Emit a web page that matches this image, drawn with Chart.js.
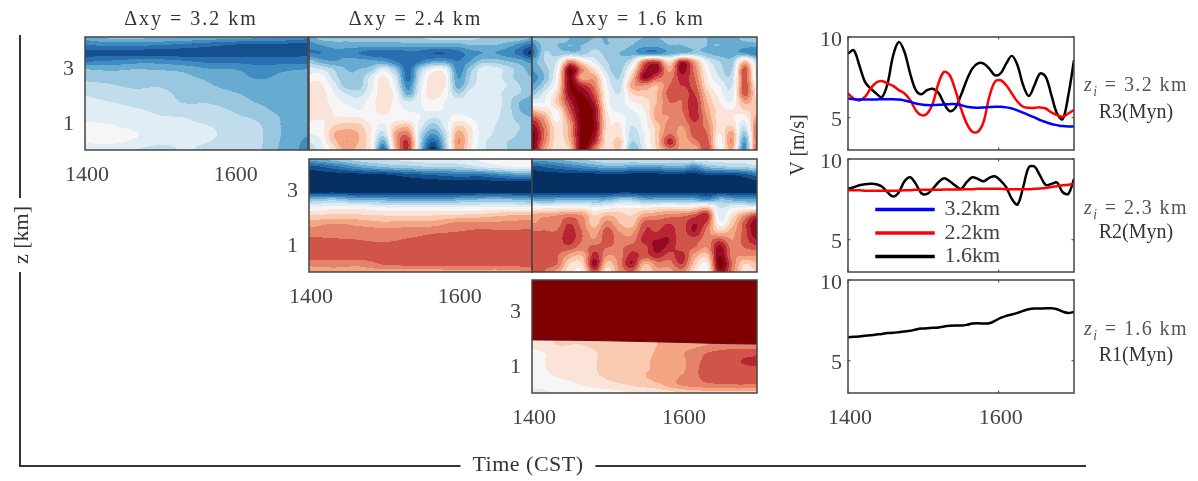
<!DOCTYPE html>
<html><head><meta charset="utf-8">
<script src="https://cdn.jsdelivr.net/npm/chart.js@4"></script>
<style>
html,body{margin:0;padding:0;background:#fff;width:1198px;height:481px;overflow:hidden}
#stage{position:absolute;left:0;top:0;width:1198px;height:481px;filter:blur(0.55px)}
canvas{position:absolute}
.t{position:absolute;font-family:"Liberation Serif",serif;color:#333;white-space:nowrap;line-height:1;transform:translate(-50%,-50%)}
.r{transform:translate(-50%,-50%) rotate(-90deg);background:#fff;padding:0 8px}
.a{color:#555;letter-spacing:1.4px}
.b{background:#fff;padding:0 12px;letter-spacing:.5px}
sub{font-size:68%;line-height:0}
.l{position:absolute;background:#333}
</style></head><body><div id="stage"></div>
<script>
// ---- axis ticks and labels ----
const timeTicks=[1400,1600];
const heightTicks=[1,3];
const speedTicks=[5,10];
const columnTitles=["Δxy = 3.2 km","Δxy = 2.4 km","Δxy = 1.6 km"];
const seriesNames=["3.2km","2.2km","1.6km"];
const seriesColors=["#0000ff","#ff0000","#000000"];
const rowNotes=[["3.2 km","R3(Myn)"],["2.3 km","R2(Myn)"],["1.6 km","R1(Myn)"]];
// ---- filled-contour colour levels, -8 .. +8 ----
const levelColors=["#053061","#14508e","#2a6eb0","#3f8cc0","#68abd0","#98c7df","#c1dcea","#e1edf4","#f6f6f6","#fbe3d7","#f9c9b0","#f4a582","#e4826a","#d05548","#b82433","#940a20","#7f0000"];
// ---- heat maps: rows run from the top of the panel down to z = 0 ----
const gridR3_32=[
[-4,-3.2,-3.2,-3.3,-3.5,-3.8,-4,-4.2,-4.5,-5],
[-5.5,-5.3,-5.3,-5.5,-5.8,-6.2,-6.6,-6.8,-6.8,-7],
[-6.8,-6.8,-6.9,-7,-7,-7,-7,-6.8,-6.8,-6.7],
[-5.6,-5.4,-5,-5,-5.4,-5.8,-5.8,-6,-6,-6],
[-3.5,-3.7,-3.5,-3.6,-3.8,-4.4,-4.5,-5,-4.7,-4.5],
[-2.8,-3,-3.1,-3,-3.3,-3.7,-4.1,-4.6,-4.3,-4.1],
[-2.2,-2.4,-2.7,-2.6,-3.1,-3.4,-3.9,-4.2,-4.1,-4],
[-1.6,-2,-2.2,-2.2,-2.8,-3,-3.4,-3.9,-4,-4],
[-1.3,-1.5,-1.8,-1.9,-2.6,-2.6,-3,-3.6,-3.8,-3.9],
[-1.1,-1.2,-1.4,-1.7,-2,-2.2,-2.6,-3.2,-3.8,-3.9],
[-0.7,-0.9,-1.1,-1.4,-1.5,-1.9,-2.3,-2.7,-3.6,-3.9],
[-0.3,-0.4,-0.8,-1.1,-1.3,-1.5,-2,-2.4,-3.6,-4],
[-0.1,-0.1,-0.4,-1,-1.2,-1.3,-2,-2.3,-3.6,-4.4],
[-0.4,-0.3,-0.7,-1.2,-1.3,-1.5,-2,-2.3,-3.7,-4.7],
[-1.2,-1.1,-1.5,-2,-1.4,-1.8,-2,-2.4,-3.8,-4.8]];
const gridR3_24=[
[-4,-3,-3,-3,-3,-3,-3,-3,-2.5,-2.5,-2,-2,-2,-2,-2.5,-2.5,-2.5,-2.5,-3.5],
[-5,-4.5,-4,-4,-4,-4,-4,-4,-4,-4,-4,-4,-4,-3.5,-3.5,-3.5,-4,-5,-6],
[-5.5,-5.5,-5,-5,-5.5,-6,-6,-6.2,-6,-6,-6.5,-6.5,-6,-5,-4.5,-4.5,-5,-6,-8],
[-3,-4,-4.5,-4,-4,-4.2,-4.5,-5.5,-6.5,-5.5,-4.5,-4.5,-5.5,-4.5,-3,-3,-3.5,-4,-5],
[-1,-1.5,-2.5,-3.5,-3.5,-3,-1,-3,-6,-2.5,-0.2,-0.5,-5,-3,-1,-1,-2,-3,-4],
[-0.2,0,-2,-3.2,-3.2,-1.2,0.7,-1.5,-6,-1.5,1.2,0.5,-4.5,-2.5,-1,-1,-2,-3,-3.5],
[1,0.6,-1,-3,-3,-1,1.2,-1,-5,-1,1.2,0.5,-4,-2,-1,-1,-1.5,-2.5,-3.5],
[1,1,-0.5,-1.5,-2,-0.5,1.2,0,-4,-0.6,1.2,0,-2.5,-1,-1,-1,-2,-2.5,-3.5],
[1,1,0,-0.8,-1,0,1.2,0,-1.5,-0.5,0.3,-0.5,-1,-1,-1,-1,-2,-3.5,-4],
[1,1,0.4,0,-0.5,0,1,0,-0.6,-0.6,-0.3,-0.6,-0.8,-1,-1,-1.2,-2,-3.5,-4],
[0.8,0.6,0.6,0.6,0.6,0,0.2,0,0,-0.5,-1.5,-1,0,-0.5,-1,-1.3,-2,-3,-3.5],
[0,0.2,1.5,2,1.8,0.5,-0.8,1.5,2,-1,-3,-1,1.5,0.5,-1,-1.5,-2,-2.5,-3],
[-0.5,0,2.5,3,2.5,0.6,-2,3,4,-2,-4.5,-2,3,1,-1,-1.6,-2.2,-2.6,-3],
[-1.5,-0.5,2,3.5,2.5,0.5,-4,3,5.5,-2.5,-6.5,-2.5,3.5,1,-1.2,-1.8,-2.5,-2.6,-3],
[-2,-1,1,3,2,0.4,-6,2.5,5.5,-3,-8,-3,3,0.7,-1.2,-2,-2.5,-2.6,-3]];
const gridR3_16=[
[-3,-2.5,-3,-3.5,-4,-3.5,-3.5,-3,-3.2,-3.5,-3.5,-3.2,-3,-2.5,-3.5,-4,-4,-3,-2.5],
[-5,-3,-3.5,-3.5,-3.5,-3,-3.5,-3,-3.5,-4,-4,-3.5,-3.5,-3,-3.5,-3.5,-4,-4,-4],
[-6,-2.5,-3,-3,-3,-2,-3,-3.5,-4,-5,-5,-4,-3.5,-3,-3.5,-4,-4,-4.5,-5.5],
[-4,-2.5,-1.5,3.5,1,-1,-2.5,-3.2,-1.5,4,5,1,6,3,-1,-2.5,-3,2,-2],
[-4.5,-3,-0.5,7.5,4,1,-2,-3,0.5,6,7,3,7,4,0,-2,-2.5,5,-1.5],
[-5,-3.5,0,7.5,3,3,-1,-2.5,2,7,5,4,6,4.5,0.5,-1.5,-2,5,-1],
[-4.5,-2.5,0.5,7.5,6,4,-0.5,-2,3,3.5,2.5,4.5,5.5,5,1,-0.5,-1.5,5,0.5],
[-3,-1,1.5,7,7.5,5,0,-1.5,1.5,2,2.5,5,5,5.5,2,0,-1,5,1],
[-1,-0.5,2,6,8,6,0,-1,0.5,1,2.5,4.5,4.5,6,2.5,0.5,-0.5,3,1.5],
[2,1,0.6,5,8,7,0.5,-0.8,-0.5,0.5,3,4,4.5,6,3,1,0.5,1.5,2],
[5,3,0,4,8,7,1,0,-0.8,0,3,3.5,4,6,3.5,0.8,0.6,0,3],
[7,4,1,3,8,7.5,1,0.7,-1.5,0,2,4,3.5,5,4,1,1.5,-1.5,4.5],
[8,4.5,1,3,8,7,1,1,-2,-0.5,2,4.5,3,5,4.5,0.5,3,-3,5],
[8,4,1,2.5,8,6,1,2,-2.5,-0.5,2,6,3,4,5,0,3.5,-4.5,5],
[8,3,1,1.5,8,4,0.8,1.5,-3.5,-1,1.5,4,3,2.5,5.5,0.2,2.5,-5,5.5]];
const gridR2_24=[
[-4,-3,-2,-1.5,-1.2,-1,-0.7,-0.3,0.5,0.5],
[-7,-6,-4.5,-3.5,-3,-2.5,-2.5,-1.5,-0.8,-0.5],
[-8,-8,-8,-7.8,-7,-6.5,-6,-6,-5,-4.5],
[-8,-8,-8,-8,-8,-8,-8,-8,-8,-8],
[-8,-8,-8,-8,-8,-8,-8,-8,-8,-8],
[-3.5,-3,-4,-4,-4.5,-4.5,-4,-3.5,-3.5,-4],
[-0.5,0,0,-0.5,-0.5,-0.5,-0.5,-0.5,-0.3,-0.5],
[1.5,1.8,1.7,1.5,1.5,1.5,1.7,2,2.5,2.6],
[3,3.5,3.2,2.8,3,3,3.8,3.8,3.8,4],
[4,4,4,4,4,4.3,4.5,4.7,4.6,4.7],
[4.7,4.6,4.5,4.3,4.6,4.8,5,5,5,5],
[5,5,5,5,5,5,5,5,5,5],
[5,5,5,5,5,5,5,5,5,5.5],
[3.8,4,3.8,4.6,4.8,4.8,5,4.9,5,5],
[3,3,3,3,3,3,3,3,3,3.5]];
const gridR2_16=[
[-4,-4,-3.5,-3,-2.5,-2,-1.5,-1.3,-1.5,-1.2,-1.2,-1.4,-1.5,-1,-1,-1,-1,-1,-0.8],
[-7,-6.5,-6,-5.5,-5,-4.5,-4,-4,-4.5,-4.5,-4.5,-4,-4,-5,-3.5,-3,-2.5,-2.5,-2],
[-8,-8,-8,-8,-8,-8,-8,-8,-8,-8,-8,-8,-8,-8,-7.5,-7.5,-7.5,-7,-6],
[-8,-8,-8,-8,-8,-8,-8,-8,-8,-8,-8,-8,-8,-8,-8,-8,-8,-8,-8],
[-8,-8,-8,-8,-8,-8,-8,-8,-8,-8,-8,-8,-8,-8,-8,-8,-8,-8,-8],
[-4,-4.5,-4,-4,-4,-4,-4,-3,-3,-4,-4,-4,-4,-4,-5,-3.5,-4,-4.5,-4.5],
[0,0,0,0,0.3,-0.5,0,0.3,0.3,0.4,0.6,1,0.6,1,2,-1.5,-0.8,-0.5,-0.5],
[3,3.2,3.5,4,3.5,1.5,2.5,2,1.5,3,3.5,4,4.2,5,6,-1,1,3.5,5.5],
[3.5,3.8,4,5.5,4,2,4,2.5,2,5,5,5.5,5,6.5,5,0,2,5,7.5],
[4.6,4.6,4.6,6,4.5,3,5,3.5,3.2,5.5,5.5,6,5,6.5,4,2,3,5,7.5],
[5,5,5,6,4.5,3.6,5,4,4,6,6.5,6.5,4.6,5,4,5,3.5,5,6.5],
[5,5,5,5,4,5,4.5,4.3,5,5,7,6,5,4.5,3.5,7,4,4.5,5],
[5,5,4.6,3,2.5,6,3.5,4,6,5,6,5,6,3,2,7.5,4,3.5,3.5],
[5.5,5,4.5,1.5,1.5,7,2,4,6.5,2.5,4,4,5.5,2,0.5,8,4.5,1.5,2.5],
[5.5,4.5,3,1,0.5,5,1,3.5,4.5,1.5,3,3,4,1,0,7,4,1,1.5]];
// R1 grid covers only the layer under the capping inversion
const gridR1_16=[
[1,1.5,1.5,2,2,2.5,3,3.5,4,4],
[1,1.5,1.5,2,2,2.5,3,3.5,4,4],
[0,1,1,1.8,2,2.6,3.4,4.5,5,5],
[0,1,1.2,1.7,2,2.7,3.3,4.8,5.2,6],
[-0.2,1,1.2,1.7,2,2.7,3.3,5,5.2,5.2],
[-0.2,0.5,1,1.6,2,2.9,3.6,4.8,5,5],
[-0.2,0,0.5,1.1,1.6,2.2,3.6,4.2,4.4,4.4],
[-1,-0.4,0,0,0.5,0.8,1.5,2,2,2]];
const gridR1Top=2.04;
const capTimes=[1400,1450,1500,1550,1600,1650,1700];
const capHeight=[1.93,1.92,1.90,1.87,1.84,1.80,1.78];
const zTop=4.11;
// ---- wind speed series, one sample every 7.5 minutes ----
const speedTimes=[1400,1407.5,1415,1422.5,1430,1437.5,1445,1452.5,1460,1467.5,1475,1482.5,1490,1497.5,1505,1512.5,1520,1527.5,1535,1542.5,1550,1557.5,1565,1572.5,1580,1587.5,1595,1602.5,1610,1617.5,1625,1632.5,1640,1647.5,1655,1662.5,1670,1677.5,1685,1692.5,1700];
const r3Blue=[6.19,6.15,6.13,6.13,6.13,6.13,6.15,6.15,6.15,6.13,6.07,5.99,5.88,5.82,5.78,5.78,5.80,5.82,5.84,5.84,5.78,5.68,5.64,5.61,5.64,5.66,5.68,5.68,5.64,5.57,5.45,5.31,5.16,5.02,4.85,4.73,4.61,4.54,4.48,4.46,4.46];
const r3Red=[6.50,6.19,6.07,6.29,6.81,7.18,7.28,7.12,6.97,6.71,6.50,6.09,5.47,5.16,5.26,5.88,7.12,7.84,7.63,6.71,5.57,4.65,4.13,4.13,4.75,6.29,7.22,7.32,7.01,6.50,5.99,5.68,5.61,5.61,5.64,5.57,5.33,5.16,5.06,5.26,5.47];
const r3Black=[8.97,9.18,8.25,7.22,6.81,6.50,6.27,7.12,8.87,9.69,9.07,7.74,6.71,6.46,6.71,6.79,6.54,5.88,5.41,5.61,6.40,7.32,8.04,8.37,8.35,8.04,7.63,7.74,8.35,8.83,8.25,7.01,6.34,7.01,7.74,7.53,6.40,5.26,4.91,6.40,8.56];
const r2Blue=[];
const r2Red=[8.06,8.06,8.06,8.04,8.04,8.04,8.04,8.04,8.04,8.04,8.06,8.06,8.09,8.09,8.09,8.09,8.09,8.11,8.11,8.11,8.11,8.13,8.13,8.15,8.15,8.15,8.15,8.15,8.13,8.13,8.13,8.13,8.13,8.15,8.17,8.21,8.27,8.31,8.37,8.41,8.46];
const r2Black=[8.15,8.25,8.37,8.44,8.46,8.44,8.29,7.94,7.67,7.94,8.62,8.87,8.46,7.88,7.84,8.15,8.56,8.81,8.62,8.35,8.15,8.56,8.87,8.76,8.62,8.83,8.93,8.66,8.25,7.53,7.18,8.25,9.49,9.53,8.97,8.39,8.46,8.54,7.94,7.84,8.76];
const r1Black=[6.46,6.48,6.50,6.54,6.58,6.62,6.66,6.71,6.73,6.77,6.81,6.85,6.93,6.99,7.01,7.04,7.06,7.12,7.16,7.18,7.18,7.22,7.30,7.32,7.30,7.32,7.47,7.65,7.78,7.86,7.96,8.09,8.19,8.23,8.23,8.25,8.25,8.19,8.04,7.96,8.02];

// ---- page geometry ----
const ML=40, MB=44, FONT='"Liberation Serif", serif', INK='#444';
const stage=document.getElementById('stage');
Chart.defaults.font.family=FONT;
Chart.defaults.color=INK;
// smooth contour field: Catmull-Rom between the read grid nodes
function cr(a,b,c,d,t){return b+0.5*t*(c-a+t*(2*a-5*b+4*c-d+t*(3*(b-c)+d-a)));}
function sample(g,rf,cf){
  const nr=g.length,nc=g[0].length,r=Math.min(nr-1,Math.floor(rf)),k=Math.min(nc-1,Math.floor(cf)),fr=rf-r,fc=cf-k,vals=[];
  for(let j=-1;j<=2;j++){
    const row=g[Math.max(0,Math.min(nr-1,r+j))];
    vals.push(cr(row[Math.max(0,k-1)],row[k],row[Math.min(nc-1,k+1)],row[Math.min(nc-1,k+2)],fc));
  }
  return cr(vals[0],vals[1],vals[2],vals[3],fr);
}
const heatPlugin={id:'heat',
  beforeDraw(chart,args,opts){
    const t=chart.titleBlock;
    if(t&&t.options.display&&!t._spaced){
      const d=t.draw,c=chart.ctx,dx=opts.titleShift||0;t._spaced=true;
      t.draw=function(){c.save();c.translate(dx,0);c.letterSpacing='2px';d.call(t);c.letterSpacing='0px';c.restore();};
    }
  },
  beforeDatasetsDraw(chart,args,opts){
    if(!opts.grid)return;
    const g=opts.grid,top=opts.top,nr=g.length,nc=g[0].length,X=chart.scales.x,Y=chart.scales.y,A=chart.chartArea,c=chart.ctx;
    c.save();
    for(let py=Math.floor(A.top);py<Math.ceil(A.bottom);py++){
      const rf=Math.min(nr-1,(top-Y.getValueForPixel(py+.5))/top*(nr-1));
      if(rf<0)continue;
      let start=Math.floor(A.left),last=null;
      for(let px=Math.floor(A.left);px<=Math.ceil(A.right);px++){
        let lv=null;
        if(px<Math.ceil(A.right)){
          const cf=Math.max(0,Math.min(nc-1,(X.getValueForPixel(px+.5)-X.min)/(X.max-X.min)*(nc-1)));
          lv=Math.max(-8,Math.min(8,Math.round(sample(g,rf,cf))));
        }
        if(lv!==last){
          if(last!==null){c.fillStyle=levelColors[last+8];c.fillRect(start,py,px-start,1);}
          start=px;last=lv;
        }
      }
    }
    c.restore();
  },
  afterDraw(chart,args,opts){
    const A=chart.chartArea,c=chart.ctx,X=chart.scales.x,Y=chart.scales.y;
    c.save();c.strokeStyle=INK;c.lineWidth=1.5;
    c.strokeRect(A.left,A.top,A.right-A.left,A.bottom-A.top);
    if(opts.inner){
      c.lineWidth=1;c.beginPath();
      timeTicks.forEach(v=>{const p=X.getPixelForValue(v);c.moveTo(p,A.top);c.lineTo(p,A.top+2.5);c.moveTo(p,A.bottom);c.lineTo(p,A.bottom-2.5);});
      speedTicks.forEach(v=>{const p=Y.getPixelForValue(v);c.moveTo(A.left,p);c.lineTo(A.left+2.5,p);c.moveTo(A.right,p);c.lineTo(A.right-2.5,p);});
      c.stroke();
    }
    c.restore();
  }
};
const legendPlugin={id:'placeLegend',
  beforeDraw(chart,args,opts){
    if(!opts.at||!chart.legend)return;
    const L=chart.legend,w=L.right-L.left,h=L.bottom-L.top;
    L.left=opts.at[0];L.top=opts.at[1];L.right=L.left+w;L.bottom=L.top+h;
  }
};
Chart.register(heatPlugin,legendPlugin);
const noPad=a=>{a.paddingTop=a.paddingBottom=a.paddingLeft=a.paddingRight=0;};

function panel(o){
  const cv=document.createElement('canvas');
  const mt=o.title?37:14, mr=4;
  const w=ML+o.w+mr,h=mt+o.h+MB;
  cv.width=w;cv.height=h;
  cv.style.left=(o.x-ML)+'px';cv.style.top=(o.y-mt)+'px';cv.style.width=w+'px';cv.style.height=h+'px';
  stage.appendChild(cv);
  const ct=o.yTicks;
  new Chart(cv,{
    type:'line',
    data:{datasets:o.datasets},
    options:{
      responsive:false,animation:false,devicePixelRatio:1,
      layout:{padding:{top:o.title?0:mt,right:mr,left:0,bottom:0}},
      elements:{point:{radius:0}},
      plugins:{
        legend:o.legend?{display:true,position:'chartArea',align:'start',
          labels:{boxWidth:57,boxHeight:1,padding:1.5,color:INK,font:{family:FONT,size:22,lineHeight:1}}}:{display:false},
        tooltip:{enabled:false},
        title:o.title?{display:true,text:o.title,fullSize:false,color:'#333',font:{family:FONT,size:20,weight:'normal',lineHeight:1.2},padding:{top:8,bottom:5}}:{display:false},
        heat:{grid:o.grid,top:o.gridTop,inner:o.inner,titleShift:o.titleShift},
        placeLegend:{at:o.legend}
      },
      scales:{
        x:{type:'linear',min:1400,max:1700,grid:{display:false,drawTicks:false},border:{display:false},
          afterBuildTicks:a=>{a.ticks=timeTicks.map(v=>({value:v}));},
          afterFit:a=>{a.height=MB;noPad(a);},
          ticks:{display:!!o.xLabels,autoSkip:false,maxRotation:0,padding:12,labelOffset:2,color:INK,font:{family:FONT,size:22},callback:v=>String(v)}},
        y:{type:'linear',min:o.yMin,max:o.yMax,grid:{display:false,drawTicks:false},border:{display:false},
          afterBuildTicks:a=>{a.ticks=ct.map(v=>({value:v}));},
          afterFit:a=>{a.width=ML;noPad(a);},
          ticks:{display:!!o.yLabels,autoSkip:false,padding:o.yPad||6,labelOffset:o.yShift||0,color:INK,font:{family:FONT,size:22},callback:v=>String(v)}}
      }
    }
  });
}
const gridNodes=(g,top)=>g.flatMap((row,j)=>row.map((v,i)=>({x:1400+300*i/(row.length-1),y:top-top*j/(g.length-1),v})));
function heatDs(g,top){return {label:'field',data:gridNodes(g,top),showLine:false,pointRadius:0};}
function lineDs(i,vals){return {label:seriesNames[i],data:vals.map((v,k)=>({x:speedTimes[k],y:v})),borderColor:seriesColors[i],backgroundColor:seriesColors[i],borderWidth:2.5,tension:0.35,pointRadius:0};}

const H={yMin:0,yMax:zTop,yTicks:heightTicks,yPad:11,yShift:2};
panel({...H,x:85,y:37,w:223,h:113,title:columnTitles[0],titleShift:-5.5,grid:gridR3_32,gridTop:zTop,datasets:[heatDs(gridR3_32,zTop)],xLabels:true,yLabels:true});
panel({...H,x:308.5,y:37,w:223.5,h:113,title:columnTitles[1],titleShift:-5,grid:gridR3_24,gridTop:zTop,datasets:[heatDs(gridR3_24,zTop)]});
panel({...H,x:532,y:37,w:225,h:113,title:columnTitles[2],titleShift:-6.5,grid:gridR3_16,gridTop:zTop,datasets:[heatDs(gridR3_16,zTop)]});
panel({...H,x:309,y:158.5,w:223,h:113,grid:gridR2_24,gridTop:zTop,datasets:[heatDs(gridR2_24,zTop)],xLabels:true,yLabels:true});
panel({...H,x:532,y:158.5,w:225,h:113,grid:gridR2_16,gridTop:zTop,datasets:[heatDs(gridR2_16,zTop)]});
panel({...H,x:532,y:280,w:225,h:113,grid:gridR1_16,gridTop:gridR1Top,xLabels:true,yLabels:true,
  datasets:[{label:'inversion',data:capHeight.map((v,i)=>({x:capTimes[i],y:v})),fill:'end',backgroundColor:'#7f0000',borderColor:'#5a0a30',borderWidth:1,pointRadius:0}]});
const S={yMin:3,yMax:10,yTicks:speedTicks,yPad:6,yShift:3,inner:true};
panel({...S,x:848,y:37,w:226,h:113,datasets:[lineDs(0,r3Blue),lineDs(1,r3Red),lineDs(2,r3Black)],yLabels:true});
panel({...S,x:848,y:158.5,w:226,h:113,datasets:[lineDs(0,r2Blue),lineDs(1,r2Red),lineDs(2,r2Black)],yLabels:true,legend:[ML+27,14+38]});
panel({...S,x:848,y:280,w:226,h:113,datasets:[lineDs(2,r1Black)],xLabels:true,yLabels:true});

// ---- figure-level labels ----
function text(html,x,y,size,cls){const d=document.createElement('div');d.className='t '+(cls||'');d.innerHTML=html;d.style.left=x+'px';d.style.top=y+'px';d.style.fontSize=size+'px';stage.appendChild(d);}
function rule(x,y,w,h){const d=document.createElement('div');d.className='l';d.style.cssText+=`left:${x}px;top:${y}px;width:${w}px;height:${h}px`;stage.appendChild(d);}
rule(19,35,1.5,431);
rule(19,465,1067,1.5);
text('z [km]',21,235,22,'r');
text('Time (CST)',528,464,22,'b');
text('V [m/s]',797,145,20,'r');
[[84,111],[207,231],[328,354]].forEach((p,i)=>{
  text('<i>z<sub>i</sub></i> = '+rowNotes[i][0],1136,p[0],20,'a');
  text(rowNotes[i][1],1136,p[1],20);
});
</script></body></html>
